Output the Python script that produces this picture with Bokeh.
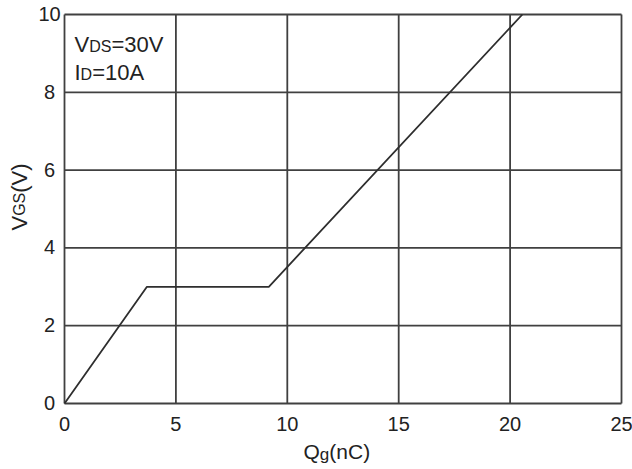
import math
from bokeh.plotting import figure
from bokeh.models import Label
from bokeh.core.properties import value
from bokeh.embed import file_html
from bokeh.resources import INLINE

# Data
qg_nc = [0.0, 3.7, 9.17, 20.55]
vgs_v = [0.0, 3.0, 3.0, 10.0]
x_ticks = [0, 5, 10, 15, 20, 25]
y_ticks = [0, 2, 4, 6, 8, 10]
x_tick_labels = ["0", "5", "10", "15", "20", "25"]
y_tick_labels = ["0", "2", "4", "6", "8", "10"]

FONT = "Liberation Sans"
TICK = 20
TXT = "#222222"
GRID = "#404040"

# canvas layout (pixels): plot area 0..25 x 0..10 mapped onto [64,621] x [14,403]
FIG_W, FIG_H = 632, 469
L_PX, R_PX, T_PX, B_PX = 64, 621, 14, 403
X0, X1, Y0, Y1 = x_ticks[0], x_ticks[-1], y_ticks[0], y_ticks[-1]
PX_X = (R_PX - L_PX) / (X1 - X0)
PX_Y = (B_PX - T_PX) / (Y1 - Y0)
x_range = (X0 - L_PX / PX_X, X1 + (FIG_W - R_PX) / PX_X)
y_range = (Y0 - (FIG_H - B_PX) / PX_Y, Y1 + T_PX / PX_Y)

def dx(px):
    return px / PX_X

def dy(px):
    return px / PX_Y

def corr(size):
    # compensate the renderer's baseline placement
    return 0.38 * size

p = figure(width=FIG_W, height=FIG_H, x_range=x_range, y_range=y_range,
           x_axis_type=None, y_axis_type=None,
           output_backend="svg", toolbar_location=None, min_border=0)
p.outline_line_color = None
p.grid.visible = False

# grid / frame lines at the tick positions
p.segment(x0=x_ticks, y0=[Y0] * len(x_ticks), x1=x_ticks, y1=[Y1] * len(x_ticks),
          line_color=GRID, line_width=1.8)
p.segment(x0=[X0] * len(y_ticks), y0=y_ticks, x1=[X1] * len(y_ticks), y1=y_ticks,
          line_color=GRID, line_width=1.8)

# the curve
p.line(qg_nc, vgs_v, line_color="#2e2e2e", line_width=1.8)

# tick labels
p.text(x=x_ticks, y=[Y0 - dy(28 - corr(TICK))] * len(x_ticks), text=x_tick_labels,
       text_font=value(FONT), text_font_size=value(f"{TICK}px"), text_color=TXT,
       text_align="center", text_baseline="alphabetic")
p.text(x=[X0 - dx(15)] * len(y_ticks), y=[t - dy(7 - corr(TICK)) for t in y_ticks],
       text=y_tick_labels,
       text_font=value(FONT), text_font_size=value(f"{TICK}px"), text_color=TXT,
       text_align="center", text_baseline="alphabetic")

# approximate Arial advance widths (em)
W = {"V": 0.667, "D": 0.722, "S": 0.667, "G": 0.778, "=": 0.584, "0": 0.556, "1": 0.556,
     "3": 0.556, "A": 0.667, "I": 0.278, "(": 0.333, ")": 0.333, "Q": 0.778, "g": 0.556,
     "n": 0.556, "C": 0.722}

def width(s, size):
    return sum(W.get(c, 0.556) for c in s) * size

def rich(parts, x, y, rotated=False):
    """parts: list of (text, size, raise_px) placed one after another."""
    off = 0.0
    for text, size, rise in parts:
        up = rise + corr(size)
        if not rotated:
            px, py, ang = x + dx(off), y + dy(up), 0.0
        else:
            px, py, ang = x - dx(up), y + dy(off), math.pi / 2
        p.add_layout(Label(x=px, y=py, text=text, text_font=FONT,
                           text_font_size=f"{size}px", text_color=TXT,
                           text_baseline="alphabetic", text_align="left", angle=ang))
        off += width(text, size)

# inside annotation
rich([("V", 22, 0), ("DS", 16, 0), ("=30V", 22, 0)], X0 + dx(10), Y1 - dy(38))
rich([("I", 22, 0), ("D", 16, 0), ("=10A", 22, 0)], X0 + dx(10), Y1 - dy(66))

# x axis title
rich([("Q", 21, 0), ("g", 17, -1.5), ("(nC)", 21, 0)], X0 + dx(303 - L_PX), Y0 - dy(56))
# y axis title (rotated)
rich([("V", 22, 0), ("GS", 16, 2), ("(V)", 22, 0)], X0 - dx(L_PX - 27), Y0 + dy(B_PX - 230),
     rotated=True)

open("out.html", "w").write(file_html(p, INLINE))
